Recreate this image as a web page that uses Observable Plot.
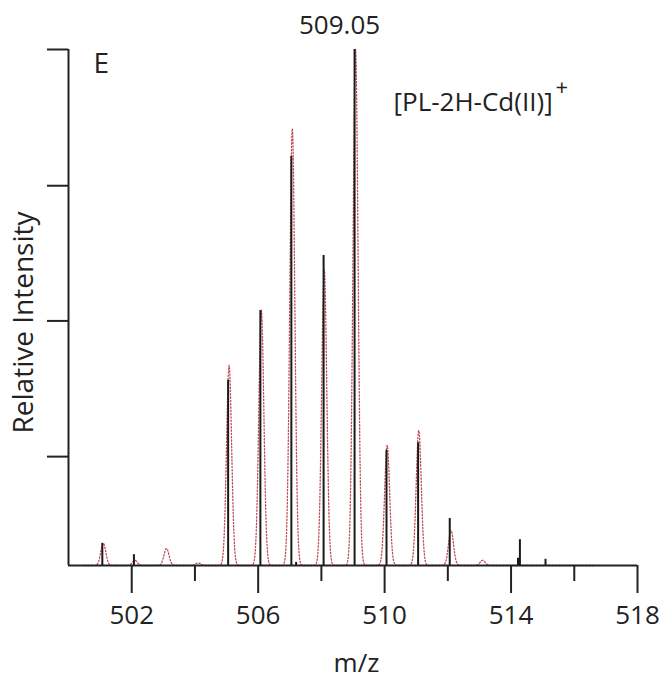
<!DOCTYPE html>
<html><head><meta charset="utf-8">
<script src="https://cdn.jsdelivr.net/npm/d3@7"></script>
<script src="https://cdn.jsdelivr.net/npm/@observablehq/plot@0.6"></script>
<style>body{margin:0;background:#fff}</style>
</head><body><div id="chart"></div>
<script>
// Experimental spectrum (black sticks): m/z and relative intensity (%)
const expMz  = [501.07, 502.07, 505.05, 506.07, 507.05, 507.2, 508.07, 509.05, 510.06, 511.06, 512.06, 514.22, 514.28, 515.09];
const expInt = [4.3,    2.1,    35.9,   49.4,   79.3,   0.6,   60.1,   100,    22.3,   23.8,   9.1,    1.4,    5.0,    1.2];
// Simulated isotope pattern (red dotted profile): peak centres and heights (%)
const simMz  = [501.1, 502.1, 503.1, 504.1, 505.08, 506.1, 507.08, 508.09, 509.08, 510.08, 511.08, 512.1, 513.1];
const simInt = [4.3,   1.0,   3.3,   0.5,   38.8,   49.5,  84.7,   57.4,   100,    23.3,   26.2,   6.8,   1.0];
const simRange = [500.5, 516.6];
// Axis ticks
const xMajorTicks = [502, 506, 510, 514, 518];
const xMinorTicks = [504, 508, 512, 516];
const yTicks = [21.1, 47.4, 73.6, 100];
const basePeakLabel = "509.05";
const panelLabel = "E";
const ionLabel = "[PL-2H-Cd(II)]";
const ionCharge = "+";

const expData = expMz.map((mz, i) => ({mz, intensity: expInt[i]}));
const sigma = 0.08;
const profile = d3.range(simRange[0], simRange[1], 0.01).map(x => ({
  mz: x,
  intensity: d3.sum(simMz, (c, i) => simInt[i] * Math.exp(-((x - c) ** 2) / (2 * sigma * sigma)))
}));

const font = "Open Sans";
const chart = Plot.plot({
  width: 662,
  height: 681,
  marginLeft: 68,
  marginRight: 25,
  marginTop: 49,
  marginBottom: 116,
  style: {fontFamily: font, fontSize: "26px", color: "#222", background: "#fff"},
  x: {domain: [500, 518]},
  y: {domain: [0, 100]},
  marks: [
    Plot.axisX({ticks: xMajorTicks, tickSize: 28, tickPadding: 12, strokeWidth: 2, fontSize: 26, label: null}),
    Plot.axisX({ticks: xMinorTicks, tickSize: 16, strokeWidth: 2, text: null, label: null}),
    Plot.axisY({ticks: yTicks, tickSize: 21, strokeWidth: 2, text: null, label: null}),
    Plot.line(profile, {x: "mz", y: "intensity", stroke: "#c04a55", strokeWidth: 1.3, strokeDasharray: "1.3 2"}),
    Plot.ruleY([0], {stroke: "#222", strokeWidth: 2}),
    Plot.ruleX([500], {stroke: "#222", strokeWidth: 2}),
    Plot.ruleX(expData, {x: "mz", y1: 0, y2: "intensity", stroke: "#1a1a1a", strokeWidth: 2}),
    Plot.text([basePeakLabel], {x: +basePeakLabel, y: 100, dx: -15, dy: -16, text: d => d, fontSize: 26, fill: "#222", lineAnchor: "bottom"}),
    Plot.text([panelLabel], {frameAnchor: "top-left", dx: 25, dy: 4, text: d => d, textAnchor: "start", lineAnchor: "top", fontSize: 28, fill: "#222"}),
    Plot.text([ionLabel], {frameAnchor: "top-left", dx: 325, dy: 43, text: d => d, textAnchor: "start", lineAnchor: "top", fontSize: 26, fill: "#222"}),
    Plot.text([ionCharge], {frameAnchor: "top-left", dx: 487, dy: 38, text: d => d, textAnchor: "start", lineAnchor: "middle", fontSize: 22, fill: "#222"}),
    Plot.text(["m/z"], {frameAnchor: "bottom", dx: 3.5, dy: 88, text: d => d, textAnchor: "middle", lineAnchor: "top", fontSize: 26, fill: "#222"}),
    Plot.text(["Relative Intensity"], {frameAnchor: "left", dx: -36, dy: 15, rotate: -90, text: d => d, textAnchor: "middle", lineAnchor: "bottom", fontSize: 28, fill: "#222"})
  ]
});
document.getElementById("chart").appendChild(chart);
</script>
</body></html>
